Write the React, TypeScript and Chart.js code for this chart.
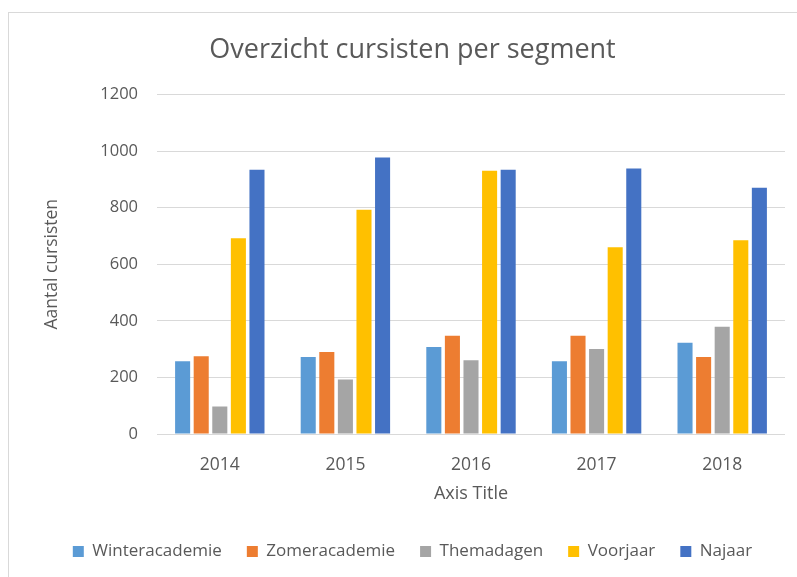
import React, { useEffect, useRef } from "react";
import { Chart, registerables } from "chart.js";

Chart.register(...registerables);

const years = ["2014", "2015", "2016", "2017", "2018"];
const winteracademie = [257, 272, 307, 257, 322];
const zomeracademie = [275, 290, 347, 347, 272];
const themadagen = [97, 193, 261, 300, 379];
const voorjaar = [692, 792, 930, 660, 685];
const najaar = [934, 977, 934, 938, 870];

const seriesNames = ["Winteracademie", "Zomeracademie", "Themadagen", "Voorjaar", "Najaar"];
const seriesColors = ["#5B9BD5", "#ED7D31", "#A5A5A5", "#FFC000", "#4472C4"];
const yTicks = [0, 200, 400, 600, 800, 1000, 1200];

const FONT = "'Open Sans', sans-serif";
const TEXT = "#595959";

export default function App() {
  const ref = useRef<HTMLCanvasElement | null>(null);

  useEffect(() => {
    document.body.style.margin = "0";
    if (!ref.current) return;
    const values = [winteracademie, zomeracademie, themadagen, voorjaar, najaar];
    const chart = new Chart(ref.current, {
      type: "bar",
      data: {
        labels: years,
        datasets: seriesNames.map((name, i) => ({
          label: name,
          data: values[i],
          backgroundColor: seriesColors[i],
          borderWidth: 0,
          categoryPercentage: 0.74,
          barPercentage: 0.81,
        })),
      },
      options: {
        responsive: false,
        animation: false,
        layout: { padding: { left: 40, top: 34, right: 12, bottom: 7 } },
        plugins: {
          title: {
            display: true,
            text: "Overzicht cursisten per segment",
            color: TEXT,
            font: { family: FONT, size: 27, weight: "normal" },
            padding: { top: 0, bottom: 28 },
          },
          legend: {
            position: "bottom",
            labels: {
              boxWidth: 11,
              boxHeight: 11,
              color: TEXT,
              padding: 25,
              font: { family: FONT, size: 17 },
            },
          },
          tooltip: { enabled: false },
        },
        scales: {
          x: {
            grid: { display: false },
            border: { display: false },
            afterFit: (s: any) => {
              s.height = 84;
            },
            ticks: { color: TEXT, padding: 13, font: { family: FONT, size: 17.5 } },
            title: {
              display: true,
              text: "Axis Title",
              color: TEXT,
              font: { family: FONT, size: 18 },
              padding: { top: 0, bottom: 13.5 },
            },
          },
          y: {
            min: 0,
            max: 1200,
            afterBuildTicks: (s: any) => {
              s.ticks = yTicks.map((v) => ({ value: v }));
            },
            afterFit: (s: any) => {
              s.width = 117;
            },
            grid: { color: "#D9D9D9", lineWidth: 1, drawTicks: false },
            border: { display: false },
            ticks: {
              color: TEXT,
              padding: 19,
              font: { family: FONT, size: 16.5 },
              callback: (v: any) => String(v),
            },
            title: {
              display: true,
              text: "Aantal cursisten",
              color: TEXT,
              font: { family: FONT, size: 17.5 },
              padding: { top: 2, bottom: 4 },
            },
          },
        },
      },
    });
    return () => chart.destroy();
  }, []);

  return (
    <div style={{ position: "relative", width: 797, height: 577, overflow: "hidden" }}>
      <div
        style={{
          position: "absolute",
          left: 8,
          top: 12,
          width: 820,
          height: 600,
          border: "1px solid #D9D9D9",
          boxSizing: "border-box",
        }}
      />
      <canvas
        ref={ref}
        width={797}
        height={577}
        style={{ position: "absolute", left: 0, top: 0, width: 797, height: 577 }}
      />
    </div>
  );
}
